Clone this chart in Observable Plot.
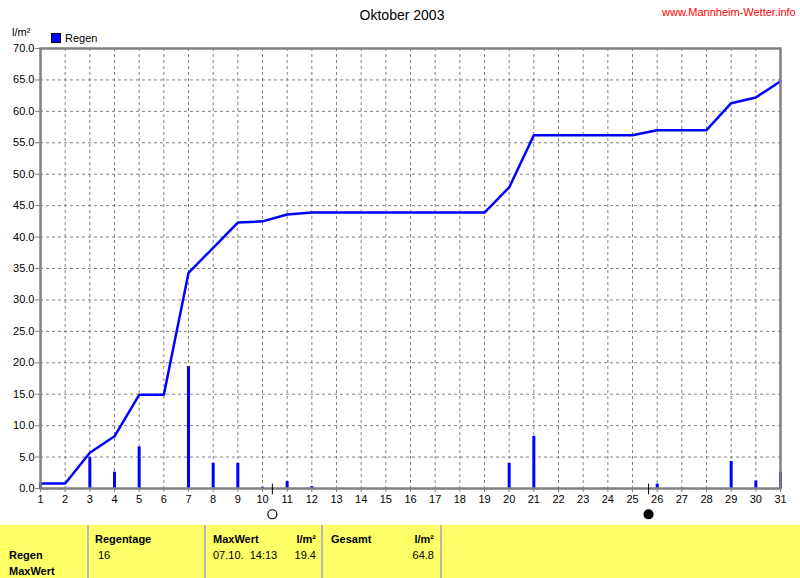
<!DOCTYPE html>
<html>
<head>
<meta charset="utf-8">
<script src="https://cdn.jsdelivr.net/npm/d3@7"></script>
<script src="https://cdn.jsdelivr.net/npm/@observablehq/plot@0.6"></script>
<style>
  html, body { margin: 0; padding: 0; background: #fff; }
  #wrap { position: relative; width: 800px; height: 578px; overflow: hidden; font-family: "Liberation Sans", Arial, sans-serif; }
  .t { position: absolute; font-size: 11px; line-height: 12px; white-space: pre; color: #000; }
  .b { font-weight: bold; }
  #chart { position: absolute; left: 0; top: 0; }
  #table { position: absolute; left: 0; top: 525px; width: 800px; height: 53px; background: #ffff66; }
  .sep { position: absolute; top: 0; width: 2px; height: 53px; background: #b8b8b8; }
</style>
</head>
<body>
<div id="wrap">
  <div id="chart"></div>
  <div class="t" style="left:0;width:804px;text-align:center;top:7px;font-size:14px;line-height:16px;">Oktober 2003</div>
  <div class="t" style="left:662px;top:6px;color:#ff0000;">www.Mannheim-Wetter.info</div>
  <div class="t" style="left:12px;top:26px;">l/m²</div>
  <div style="position:absolute;left:51px;top:33px;width:8px;height:8px;background:#0000ff;border:1px solid #000;"></div>
  <div class="t" style="left:65px;top:32px;">Regen</div>
  <div id="table">
    <div class="sep" style="left:87px"></div>
    <div class="sep" style="left:204px"></div>
    <div class="sep" style="left:321px"></div>
    <div class="sep" style="left:440px"></div>
    <div class="t b" style="left:9px;top:24px;">Regen</div>
    <div class="t b" style="left:9px;top:40px;">MaxWert</div>
    <div class="t b" style="left:95px;top:8px;">Regentage</div>
    <div class="t" style="left:98px;top:24px;">16</div>
    <div class="t b" style="left:213px;top:8px;">MaxWert</div>
    <div class="t b" style="left:276px;width:40px;text-align:right;top:8px;">l/m²</div>
    <div class="t" style="left:213px;top:24px;">07.10.  14:13</div>
    <div class="t" style="left:276px;width:40px;text-align:right;top:24px;">19.4</div>
    <div class="t b" style="left:331px;top:8px;">Gesamt</div>
    <div class="t b" style="left:394px;width:40px;text-align:right;top:8px;">l/m²</div>
    <div class="t" style="left:394px;width:40px;text-align:right;top:24px;">64.8</div>
  </div>
</div>
<script>
const days = [1,2,3,4,5,6,7,8,9,10,11,12,13,14,15,16,17,18,19,20,21,22,23,24,25,26,27,28,29,30,31];
const dailyRain = [0.8,0,4.9,2.6,6.6,0,19.4,4.0,4.0,0.2,1.1,0.3,0,0,0,0,0,0,0,4.0,8.3,0,0,0,0,0.7,0,0,4.3,1.2,2.6];
const cumulative = [0.8,0.8,5.7,8.3,14.9,14.9,34.3,38.3,42.3,42.5,43.6,43.9,43.9,43.9,43.9,43.9,43.9,43.9,43.9,47.9,56.2,56.2,56.2,56.2,56.2,57.0,57.0,57.0,61.3,62.2,64.8];
const yTicks = [0,5,10,15,20,25,30,35,40,45,50,55,60,65,70];
const moonDays = [10.4, 25.65];
const moonFill = ["white", "black"];

const rainData = days.map((d, i) => ({day: d, rain: dailyRain[i]})).filter(d => d.rain > 0);
const cumData = days.map((d, i) => ({day: d, total: cumulative[i]}));
const moonData = moonDays.map((d, i) => ({day: d, fill: moonFill[i]}));

const grid = "#808080";
const chart = Plot.plot({
  width: 800,
  height: 525,
  marginTop: 48,
  marginLeft: 40,
  marginRight: 20,
  marginBottom: 37,
  style: {fontFamily: "'Liberation Sans', Arial, sans-serif", fontSize: "11px", color: "#000", background: "transparent"},
  x: {domain: [1, 31], ticks: days, tickFormat: d => String(d), label: null},
  y: {domain: [0, 70], ticks: yTicks, tickFormat: d => d.toFixed(1), label: null},
  marks: [
    Plot.gridX(days, {stroke: grid, strokeOpacity: 1, strokeDasharray: "3,3", strokeWidth: 1}),
    Plot.gridY(yTicks, {stroke: grid, strokeOpacity: 1, strokeDasharray: "3,3", strokeWidth: 1}),
    Plot.ruleX(rainData, {x: "day", y1: 0, y2: "rain", stroke: "#0000ff", strokeWidth: 3}),
    Plot.line(cumData, {x: "day", y: "total", stroke: "#0000ff", strokeWidth: 2.5}),
    Plot.frame({stroke: grid, strokeWidth: 2.5}),
    Plot.axisX({ticks: days, tickFormat: d => String(d), tickSize: 4, tickPadding: 3, stroke: grid, label: null}),
    Plot.axisY({ticks: yTicks, tickFormat: d => d.toFixed(1), tickSize: 5, tickPadding: 1, stroke: grid, label: null}),
    Plot.ruleX(moonData, {x: "day", y1: 0.7, y2: -1.0, stroke: "#000", strokeWidth: 1}),
    Plot.dot(moonData, {x: "day", y: -4.1, r: 4.5, fill: "fill", stroke: "#000", strokeWidth: 1.2})
  ]
});
document.getElementById("chart").appendChild(chart);
</script>
</body>
</html>
